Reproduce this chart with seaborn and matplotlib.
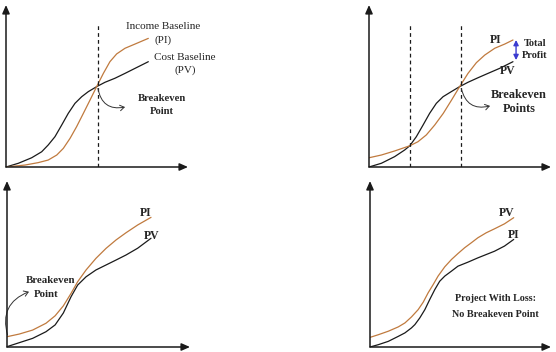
import matplotlib
matplotlib.use("Agg")
import matplotlib.pyplot as plt
import seaborn as sns
import pandas as pd

sns.set_style("white")
plt.rcParams['font.family'] = ['Liberation Serif', 'DejaVu Serif']

ORANGE = "#c07a3e"
BLACK = "#1a1a1a"

# Panel 1: single breakeven point
p1_pi_x = [0, 1.04, 1.77, 2.32, 2.79, 3.15, 3.52, 3.88, 4.25, 4.62, 4.98, 5.35, 5.71, 6.08, 6.54, 7.09, 7.82]
p1_pi_y = [0, 0.12, 0.27, 0.43, 0.74, 1.15, 1.77, 2.49, 3.31, 4.14, 4.96, 5.78, 6.50, 6.98, 7.33, 7.59, 7.94]
p1_pv_x = [0, 0.68, 1.41, 1.96, 2.32, 2.69, 3.06, 3.42, 3.79, 4.16, 4.52, 4.98, 5.44, 5.99, 6.54, 7.09, 7.82]
p1_pv_y = [0, 0.23, 0.57, 0.94, 1.36, 1.87, 2.59, 3.31, 3.93, 4.34, 4.65, 4.96, 5.23, 5.48, 5.78, 6.09, 6.50]
p1_breakeven = [5.05]

# Panel 2: two breakeven points
p2_pi_x = [0, 0.68, 1.41, 2.24, 2.69, 3.15, 3.61, 4.08, 4.54, 4.98, 5.44, 5.90, 6.36, 6.91, 7.46, 7.91]
p2_pi_y = [0.57, 0.74, 0.99, 1.31, 1.56, 1.98, 2.59, 3.31, 4.14, 4.96, 5.78, 6.44, 6.91, 7.33, 7.59, 7.84]
p2_pv_x = [0, 0.68, 1.41, 1.96, 2.24, 2.60, 2.97, 3.33, 3.70, 4.07, 4.52, 4.98, 5.44, 5.99, 6.54, 7.18, 7.91]
p2_pv_y = [0, 0.23, 0.64, 1.05, 1.31, 1.87, 2.59, 3.31, 3.93, 4.34, 4.65, 4.96, 5.23, 5.51, 5.78, 6.09, 6.50]
p2_breakeven = [2.27, 5.07]

# Panel 3: breakeven at start
p3_x = [0, 0.67, 1.40, 2.13, 2.63, 3.08, 3.50, 3.86, 4.32, 4.86, 5.41, 5.96, 6.50, 7.14, 7.87]
p3_pi_y = [0.62, 0.78, 1.02, 1.43, 1.88, 2.48, 3.23, 3.93, 4.64, 5.34, 5.94, 6.45, 6.88, 7.35, 7.81]
p3_pv_y = [0.02, 0.26, 0.52, 0.92, 1.33, 2.05, 3.03, 3.73, 4.23, 4.64, 4.94, 5.24, 5.54, 5.95, 6.55]

# Panel 4: project with loss
p4_pv_x = [0, 0.46, 1.01, 1.56, 1.93, 2.29, 2.66, 2.94, 3.21, 3.49, 3.76, 4.13, 4.50, 4.86, 5.23, 5.60, 5.96, 6.42, 6.88, 7.43, 7.94]
p4_pv_y = [0.58, 0.74, 0.95, 1.21, 1.45, 1.81, 2.25, 2.70, 3.26, 3.76, 4.27, 4.83, 5.27, 5.63, 5.98, 6.28, 6.58, 6.88, 7.12, 7.42, 7.79]
p4_pi_x = [0, 0.46, 1.01, 1.56, 1.93, 2.29, 2.48, 2.75, 3.03, 3.30, 3.58, 3.85, 4.13, 4.50, 4.86, 5.41, 5.96, 6.42, 6.88, 7.43, 7.94]
p4_pi_y = [0, 0.14, 0.34, 0.64, 0.85, 1.15, 1.35, 1.75, 2.25, 2.86, 3.46, 3.96, 4.27, 4.57, 4.87, 5.11, 5.37, 5.57, 5.77, 6.08, 6.48]

fig = plt.figure(figsize=(5.56, 3.52), dpi=100)
W, H = 556, 352
def px_axes(x0, y0, x1, y1):
    return fig.add_axes([x0 / W, 1 - y1 / H, (x1 - x0) / W, (y1 - y0) / H])

ax1 = px_axes(6, 5, 188, 167)
ax2 = px_axes(369, 5, 551, 167)
ax3 = px_axes(7, 181, 190, 347)
ax4 = px_axes(370, 181, 551, 347)

def setup(ax):
    ax.set_xlim(0, 10)
    ax.set_ylim(0, 10)
    for s in ax.spines.values():
        s.set_visible(False)
    ax.set_xticks([]); ax.set_yticks([])
    ax.set_xlabel(""); ax.set_ylabel("")
    ax.patch.set_alpha(0)
    ap = dict(arrowstyle='-|>,head_length=0.5,head_width=0.22', color=BLACK, lw=1.1,
              shrinkA=0, shrinkB=0)
    ax.annotate('', xy=(10, 0), xytext=(0, 0), arrowprops=ap, annotation_clip=False)
    ax.annotate('', xy=(0, 10), xytext=(0, 0), arrowprops=ap, annotation_clip=False)

def curve(ax, xs, ys, color):
    df = pd.DataFrame({"x": xs, "y": ys})
    sns.lineplot(data=df, x="x", y="y", ax=ax, color=color, lw=0.9, sort=False,
                 estimator=None, legend=False)

def vline(ax, x):
    ax.plot([x, x], [0, 8.77], ls=(0, (3, 2.5)), color=BLACK, lw=0.9)

def curved_arrow(ax, start, end, rad):
    ax.annotate('', xy=end, xytext=start,
                arrowprops=dict(arrowstyle='->,head_length=0.3,head_width=0.2', color="#333333",
                                lw=0.7, connectionstyle=f"arc3,rad={rad}",
                                shrinkA=0, shrinkB=0), annotation_clip=False)

# Panel 1
curve(ax1, p1_pv_x, p1_pv_y, BLACK)
curve(ax1, p1_pi_x, p1_pi_y, ORANGE)
for b in p1_breakeven:
    vline(ax1, b)
ax1.text(8.63, 8.70, "Income Baseline", ha='center', va='center', fontsize=8)
ax1.text(8.63, 7.84, "(PI)", ha='center', va='center', fontsize=8)
ax1.text(9.84, 6.79, "Cost Baseline", ha='center', va='center', fontsize=8, clip_on=False)
ax1.text(9.84, 5.99, "(PV)", ha='center', va='center', fontsize=8, clip_on=False)
ax1.text(8.57, 4.2, "Breakeven", ha='center', va='center', fontsize=7.7, fontweight='bold')
ax1.text(8.57, 3.4, "Point", ha='center', va='center', fontsize=7.7, fontweight='bold')
curved_arrow(ax1, (5.05, 4.85), (6.54, 3.70), 0.5)

# Panel 2
curve(ax2, p2_pv_x, p2_pv_y, BLACK)
curve(ax2, p2_pi_x, p2_pi_y, ORANGE)
for b in p2_breakeven:
    vline(ax2, b)
ax2.text(6.98, 7.84, "PI", ha='center', va='center', fontsize=8.5, fontweight='bold')
ax2.text(7.64, 5.93, "PV", ha='center', va='center', fontsize=8.5, fontweight='bold')
ax2.text(9.12, 7.65, "Total", ha='center', va='center', fontsize=7.5, fontweight='bold', clip_on=False)
ax2.text(9.12, 6.91, "Profit", ha='center', va='center', fontsize=7.5, fontweight='bold', clip_on=False)
ax2.text(8.24, 4.44, "Breakeven", ha='center', va='center', fontsize=8.8, fontweight='bold')
ax2.text(8.24, 3.58, "Points", ha='center', va='center', fontsize=8.8, fontweight='bold')
curved_arrow(ax2, (5.07, 4.85), (6.65, 3.77), 0.5)
ax2.annotate('', xy=(8.08, 7.84), xytext=(8.08, 6.6),
             arrowprops=dict(arrowstyle='<|-|>,head_length=0.3,head_width=0.15', color="#3b3bd0",
                             lw=1.0, shrinkA=0, shrinkB=0))

# Panel 3
curve(ax3, p3_x, p3_pv_y, BLACK)
curve(ax3, p3_x, p3_pi_y, ORANGE)
ax3.text(7.6, 8.07, "PI", ha='center', va='center', fontsize=8.5, fontweight='bold')
ax3.text(7.92, 6.69, "PV", ha='center', va='center', fontsize=8.5, fontweight='bold')
ax3.text(2.4, 3.98, "Breakeven", ha='center', va='center', fontsize=7.8, fontweight='bold')
ax3.text(2.16, 3.18, "Point", ha='center', va='center', fontsize=7.8, fontweight='bold')
curved_arrow(ax3, (0.03, 0.72), (1.2, 3.33), -0.45)

# Panel 4
curve(ax4, p4_pi_x, p4_pi_y, BLACK)
curve(ax4, p4_pv_x, p4_pv_y, ORANGE)
ax4.text(7.57, 8.07, "PV", ha='center', va='center', fontsize=8.5, fontweight='bold')
ax4.text(7.96, 6.75, "PI", ha='center', va='center', fontsize=8.5, fontweight='bold')
ax4.text(6.96, 2.95, "Project With Loss:", ha='center', va='center', fontsize=7.3, fontweight='bold')
ax4.text(6.90, 1.93, "No Breakeven Point", ha='center', va='center', fontsize=7.3, fontweight='bold')

for ax in (ax1, ax2, ax3, ax4):
    setup(ax)

fig.savefig("out.png", dpi=100)
